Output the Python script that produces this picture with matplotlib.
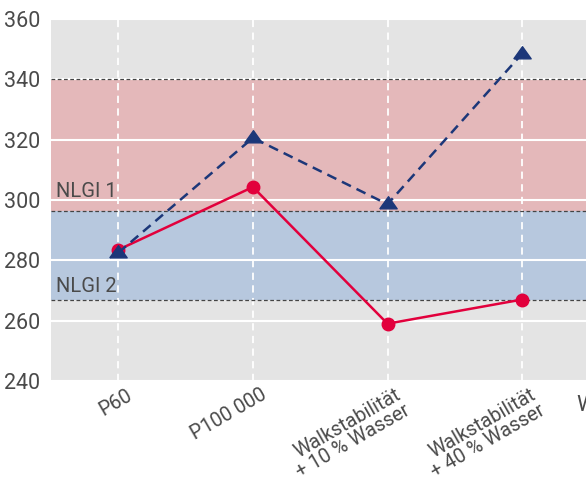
import matplotlib
matplotlib.use("Agg")
import matplotlib.pyplot as plt
import numpy as np

plt.rcParams['font.family'] = ['Roboto', 'DejaVu Sans']

categories = ["P60", "P100 000", "Walkstabilität\n+ 10 % Wasser", "Walkstabilität\n+ 40 % Wasser", ""]
red_values = [283.5, 304.3, 259.0, 267.0]
blue_values = [282.5, 320.6, 298.6, 348.5]
nlgi_bounds = [340.0, 296.4, 266.7]
nlgi_labels = ["NLGI 1", "NLGI 2"]
y_ticks = [240, 260, 280, 300, 320, 340, 360]
extra_label = "Walkstabilität"

W, H = 586, 486
fig = plt.figure(figsize=(W / 100, H / 100), dpi=100)
left, right_px, top, bottom = 51, 51 + 673, 19, 381
ax = fig.add_axes([left / W, (H - bottom) / H, (right_px - left) / W, (bottom - top) / H])

ax.set_facecolor('#e4e4e4')
for s in ax.spines.values():
    s.set_visible(False)

x = np.arange(len(categories))
ax.set_xlim(-0.5, len(categories) - 0.5)
ax.set_ylim(240, 360)

# bands
ax.axhspan(nlgi_bounds[1], nlgi_bounds[0], color='#e4b8ba', zorder=0.2, lw=0)
ax.axhspan(nlgi_bounds[2], nlgi_bounds[1], color='#b7c8de', zorder=0.2, lw=0)

ax.set_axisbelow(True)
ax.set_yticks(y_ticks)
ax.grid(axis='y', color='white', lw=1.5, ls='-')
for xi in x:
    ax.axvline(xi, color='white', lw=1.3, ls=(0, (4, 3)), zorder=0.5)

for b in nlgi_bounds:
    ax.axhline(b, color='#444444', lw=0.9, ls=(0, (3, 2)), zorder=0.8)

ax.text(-0.465, nlgi_bounds[1] + 4.6, nlgi_labels[0], fontsize=14.5, color='#4a4a4a', va='baseline', ha='left', zorder=1)
ax.text(-0.465, nlgi_bounds[2] + 2.8, nlgi_labels[1], fontsize=14.5, color='#4a4a4a', va='baseline', ha='left', zorder=1)

ax.plot(x[:len(red_values)], red_values, color='#e2003c', lw=1.8, marker='o', ms=9, zorder=3)
tri = [(-1, -0.5), (1, -0.5), (0, 0.9), (-1, -0.5)]
ax.plot(x[:len(blue_values)], blue_values, color='#1c3779', lw=1.8, ls=(0, (4, 2.5)),
        marker=tri, ms=12.5, zorder=4)

ax.tick_params(axis='both', length=0)
ax.tick_params(axis='y', labelsize=15.5, labelcolor='#4a4a4a', pad=8)
# labels sit slightly right of their category line
ax.set_xticks(x + 0.055)
ax.set_xticklabels(categories, rotation=30, rotation_mode='anchor', ha='right', va='top',
                   fontsize=14.2, color='#4a4a4a', linespacing=0.95, multialignment='right')
ax.tick_params(axis='x', pad=3)

fig.text(576 / W, 1 - 405 / H, extra_label, fontsize=16, color='#4a4a4a', va='center', ha='left')

fig.savefig('out.png', dpi=100)
